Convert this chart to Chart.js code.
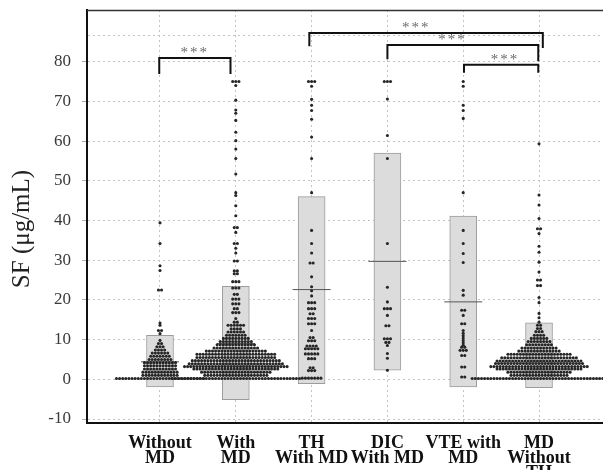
<!DOCTYPE html>
<html><head><meta charset="utf-8">
<script src="https://cdn.jsdelivr.net/npm/chart.js@4.4.1/dist/chart.umd.min.js"></script>
<style>html,body{margin:0;padding:0;background:#fff}#wrap{width:603px;height:470px}</style>
</head><body><div id="wrap"><canvas id="c" width="603" height="470"></canvas></div>
<script>
const categories = [["Without","MD"],["With","MD"],["TH","With MD"],["DIC","With MD"],["VTE with","MD"],["MD","Without","TH"]];
const yTicks = [-10,0,10,20,30,40,50,60,70,80];
const extraGrid = 86.6;
const boxLow  = [-1.9,-5.1,-1.1, 2.3,-1.9,-2.1];
const boxHigh = [11.1,23.4,46.0,57.0,41.1,14.2];
const groupMean = [4.4, 9.0, 22.6, 29.7, 19.5, 6.2];

// dot levels (SF values) and number of dots at each level, per group
const withoutMdY = [0.2,1.0,1.8,2.6,3.4,4.2,5.0,5.8,6.6,7.4,8.2,9.0,9.8,11.5,12.3,13.6,14.2,22.5,27.4,28.6,34.2,39.4];
const withoutMdN = [29,12,12,11,11,11,8,7,6,4,3,2,1,1,2,1,1,2,1,1,1,1];
const withMdY = [0.2,1.0,1.8,2.6,3.2,3.9,4.7,5.5,6.3,7.1,7.9,8.7,9.5,10.3,11.1,11.9,12.7,13.6,14.4,15.3,16.8,17.8,19.0,20.2,21.4,23.0,24.6,26.6,27.3,29.8,31.8,33.0,34.2,37.0,38.2,41.2,43.7,46.3,47.0,51.7,55.6,58.0,60.1,62.2,65.2,67.0,67.8,70.3,74.0,75.0];
const withMdN = [42,21,23,28,34,31,29,26,26,20,15,13,11,9,7,6,4,6,2,1,3,2,3,3,2,3,3,2,2,2,1,1,2,1,2,1,1,1,1,1,1,1,1,1,1,1,1,1,1,3];
const thY = [0.3,2.2,2.9,5.2,6.4,7.7,8.4,9.7,10.5,12.3,14.0,15.3,16.5,17.8,19.3,21.0,22.3,23.3,25.8,29.3,31.8,34.2,37.5,47.0,55.6,61.0,65.5,67.7,69.0,70.5,73.8,75.0];
const thN = [7,3,2,3,5,5,4,3,2,1,3,3,2,3,3,1,1,1,1,2,1,1,1,1,1,1,1,1,1,1,1,3];
const dicY = [2.3,5.3,6.5,8.5,9.3,10.2,13.5,16.1,17.8,19.5,23.2,34.2,55.6,61.4,70.6,75.0];
const dicN = [1,1,1,1,2,3,2,1,3,1,1,1,1,1,1,3];
const vteY = [0.6,3.1,6.0,7.3,8.1,8.6,9.2,9.8,10.4,11.0,11.6,12.3,14.0,16.1,17.4,21.2,22.4,29.4,31.7,34.2,37.5,47.0,65.7,67.7,69.0,73.8,75.0];
const vteN = [2,2,2,3,2,1,1,1,1,1,1,1,2,1,2,1,1,1,1,1,1,1,1,1,1,1,1];
const mdNoThY = [0.2,1.0,1.8,2.6,3.2,4.0,4.6,5.4,6.3,7.1,7.9,8.7,9.5,10.3,11.1,12.0,12.8,13.6,14.4,15.5,16.6,19.3,20.6,23.6,25.0,27.0,29.5,32.0,33.5,36.7,37.9,40.5,43.9,46.4,59.3];
const mdNoThN = [44,19,21,28,32,29,28,25,21,14,12,9,8,6,4,3,2,2,1,1,1,1,1,2,2,1,1,1,1,1,2,1,1,1,1];

const groupLevels = [withoutMdY, withMdY, thY, dicY, vteY, mdNoThY];
const groupCounts = [withoutMdN, withMdN, thN, dicN, vteN, mdNoThN];

// significance brackets: from / to category, bar level, drop ends, star position
const brackets = [
  {x1:-0.01, x2:0.93, y:80.9, d1:76.9, d2:76.9, sx:0.46},
  {x1:1.97,  x2:5.05, y:87.2, d1:83.9, d2:83.4, sx:3.38},
  {x1:3.0,   x2:4.99, y:84.2, d1:80.6, d2:80.1, sx:3.86},
  {x1:4.01,  x2:4.99, y:79.2, d1:77.2, d2:77.2, sx:4.55}
];
const starText = "***";

// swarm layout: dots of the same level set side by side around the category
const dotStep = 0.041;
const dots = [];
groupLevels.forEach((lv, g) => {
  lv.forEach((v, j) => {
    const n = groupCounts[g][j];
    for (let k = 0; k < n; k++) dots.push({x: g + (k - (n - 1) / 2) * dotStep, y: v});
  });
});

const decor = {
  id: 'decor',
  afterDatasetsDraw(chart) {
    const {ctx, chartArea, scales} = chart;
    const xs = scales.x, ys = scales.y;
    ctx.save();
    ctx.strokeStyle = '#333'; ctx.lineWidth = 1.5;
    ctx.beginPath(); ctx.moveTo(chartArea.left, chartArea.top + 0.5); ctx.lineTo(chartArea.right, chartArea.top + 0.5); ctx.stroke();
    ctx.strokeStyle = '#111'; ctx.lineWidth = 2;
    brackets.forEach(b => {
      const X1 = xs.getPixelForValue(b.x1), X2 = xs.getPixelForValue(b.x2);
      const Y = ys.getPixelForValue(b.y);
      ctx.beginPath();
      ctx.moveTo(X1, ys.getPixelForValue(b.d1));
      ctx.lineTo(X1, Y); ctx.lineTo(X2, Y);
      ctx.lineTo(X2, ys.getPixelForValue(b.d2));
      ctx.stroke();
      ctx.fillStyle = '#6a6a6a';
      ctx.font = '15px "Liberation Serif", serif';
      ctx.letterSpacing = '2px';
      ctx.textAlign = 'center'; ctx.textBaseline = 'bottom';
      ctx.fillText(starText, xs.getPixelForValue(b.sx), Y + 3);
    });
    ctx.restore();
  }
};

new Chart(document.getElementById('c'), {
  type: 'scatter',
  data: {
    datasets: [
      {
        type: 'bar',
        data: boxLow.map((l, i) => ({x: i, y: [l, boxHigh[i]]})),
        backgroundColor: '#dcdcdc', borderColor: '#9c9c9c', borderWidth: 1,
        borderSkipped: false, barThickness: 27, order: 3
      },
      {
        type: 'scatter',
        data: groupMean.map((m, i) => ({x: i, y: m})),
        pointStyle: 'line', pointRadius: 19, borderColor: '#555', borderWidth: 1,
        pointHoverRadius: 19, order: 2
      },
      {
        type: 'scatter',
        data: dots,
        pointRadius: 1.55, backgroundColor: '#262626', borderWidth: 0,
        pointHoverRadius: 1.55, order: 1
      }
    ]
  },
  options: {
    responsive: false, animation: false,
    layout: {autoPadding: false, padding: {top: 10, right: 0, bottom: 0, left: 0}},
    plugins: {legend: {display: false}, tooltip: {enabled: false}},
    events: [],
    scales: {
      x: {
        type: 'linear', min: -0.963, max: 5.844, offset: false,
        afterBuildTicks: s => { s.ticks = categories.map((_, i) => ({value: i})); },
        afterFit: s => { s.height = 47; s.paddingLeft = 0; s.paddingRight = 0; },
        grid: {color: '#c4c4c4', lineWidth: 1, drawTicks: false, offset: false},
        border: {color: '#111', width: 2, dash: [2, 3]},
        ticks: {
          autoSkip: false, maxRotation: 0, minRotation: 0, padding: 13,
          color: '#111',
          font: {family: '"Liberation Serif", serif', size: 18, weight: 'bold', lineHeight: 0.84},
          callback: v => categories[v]
        }
      },
      y: {
        type: 'linear', min: -11, max: 93,
        afterBuildTicks: s => { s.ticks = yTicks.concat([extraGrid]).map(v => ({value: v})); },
        afterFit: s => { s.width = 87; s.paddingTop = 0; s.paddingBottom = 0; },
        grid: {color: '#c4c4c4', lineWidth: 1, drawTicks: true, tickLength: 5,
               tickColor: c => (c.tick && c.tick.value === extraGrid) ? 'rgba(0,0,0,0)' : '#aaa'},
        border: {color: '#111', width: 2, dash: [2, 3]},
        ticks: {
          padding: 11, color: '#3a3a3a',
          font: {family: '"Liberation Serif", serif', size: 17},
          callback: v => yTicks.includes(v) ? String(v) : ''
        },
        title: {
          display: true, text: 'SF (μg/mL)    ', color: '#222',
          font: {family: '"Liberation Serif", serif', size: 25},
          padding: {top: 7, bottom: 0}
        }
      }
    }
  },
  plugins: [decor]
});
</script>
</body></html>
